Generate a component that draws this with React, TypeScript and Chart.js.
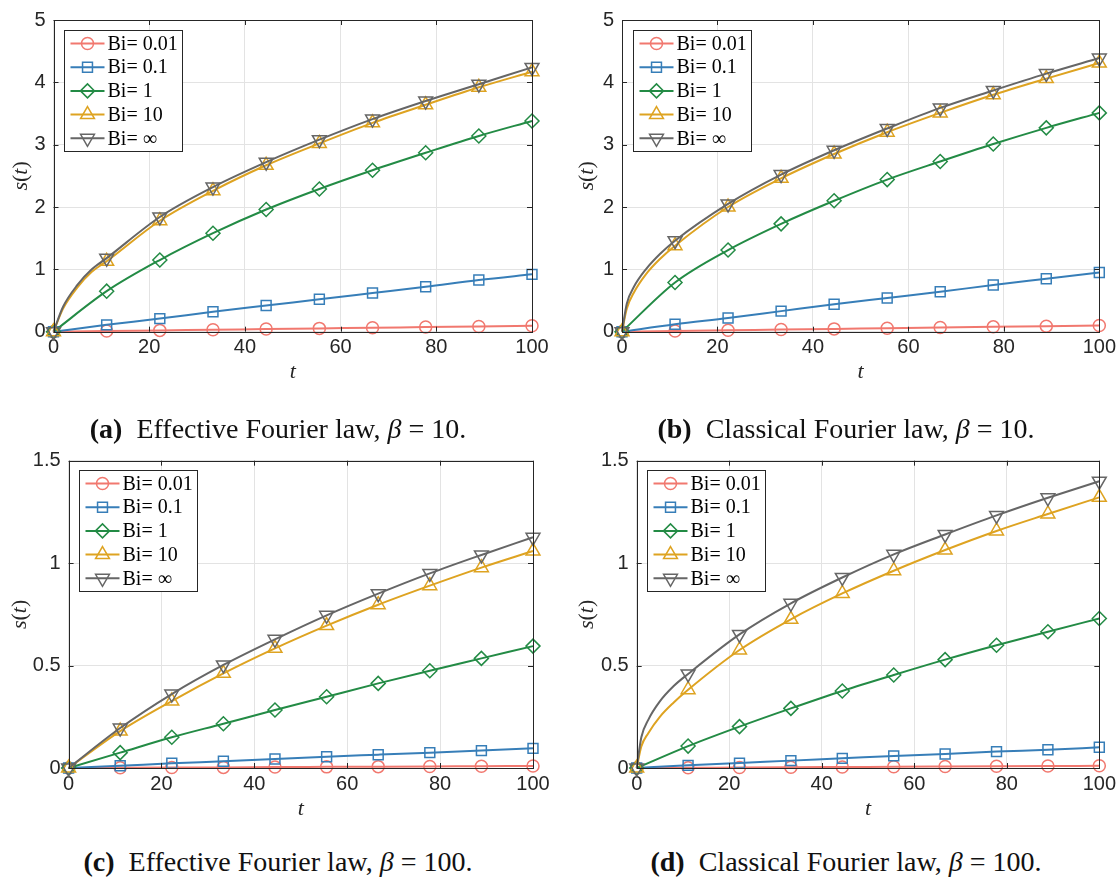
import React, { useEffect, useRef } from "react";
import { Chart, registerables } from "chart.js";
import { drawPoint } from "chart.js/helpers";

Chart.register(...registerables);

// ---- data ---------------------------------------------------------------
const T_MARKS = [0, 11.11, 22.22, 33.33, 44.44, 55.56, 66.67, 77.78, 88.89, 100];
const SERIES_LABELS = ["Bi= 0.01", "Bi= 0.1", "Bi= 1", "Bi= 10", "Bi= \u221E"];
const X_TICKS = [0, 20, 40, 60, 80, 100];
const Y_TICKS_BETA10 = [0, 1, 2, 3, 4, 5];
const Y_TICKS_BETA100 = [0, 0.5, 1, 1.5];

// (a) effective Fourier law, beta = 10
const A_BI001 = [0, 0.011, 0.021, 0.032, 0.042, 0.053, 0.063, 0.074, 0.084, 0.095];
const A_BI01 = [0, 0.11, 0.21, 0.32, 0.42, 0.52, 0.62, 0.72, 0.83, 0.92];
const A_BI1 = [0, 0.65, 1.15, 1.58, 1.96, 2.29, 2.59, 2.87, 3.14, 3.38];
const A_BI10 = [0, 1.13, 1.78, 2.26, 2.67, 3.02, 3.35, 3.64, 3.92, 4.17];
const A_BIINF = [0, 1.18, 1.84, 2.32, 2.72, 3.08, 3.41, 3.7, 3.97, 4.24];
const A_T_EARLY = [2, 5, 8];
const A_BI10_EARLY = [0.37, 0.71, 0.96];
const A_BIINF_EARLY = [0.4, 0.75, 1.0];

// (b) classical Fourier law, beta = 10
const B_BI001 = [0, 0.012, 0.023, 0.034, 0.045, 0.056, 0.067, 0.078, 0.089, 0.1];
const B_BI01 = [0, 0.12, 0.22, 0.33, 0.44, 0.54, 0.64, 0.75, 0.85, 0.95];
const B_BI1 = [0, 0.79, 1.31, 1.73, 2.1, 2.44, 2.73, 3.01, 3.27, 3.51];
const B_BI10 = [0, 1.38, 2.0, 2.46, 2.85, 3.2, 3.51, 3.8, 4.06, 4.31];
const B_BIINF = [0, 1.46, 2.05, 2.52, 2.91, 3.26, 3.59, 3.87, 4.14, 4.39];
const B_T_EARLY = [1, 2.5, 5, 8];
const B_BI10_EARLY = [0.37, 0.63, 0.92, 1.17];
const B_BIINF_EARLY = [0.45, 0.72, 1.0, 1.25];

// (c) effective Fourier law, beta = 100
const C_BI001 = [0, 0.001, 0.002, 0.003, 0.0045, 0.0055, 0.0066, 0.0077, 0.0088, 0.0099];
const C_BI01 = [0, 0.011, 0.023, 0.033, 0.044, 0.055, 0.065, 0.075, 0.085, 0.096];
const C_BI1 = [0, 0.075, 0.15, 0.216, 0.283, 0.348, 0.413, 0.475, 0.535, 0.595];
const C_BI10 = [0, 0.18, 0.327, 0.462, 0.584, 0.695, 0.797, 0.89, 0.978, 1.059];
const C_BIINF = [0, 0.195, 0.361, 0.503, 0.628, 0.745, 0.851, 0.95, 1.04, 1.126];

// (d) classical Fourier law, beta = 100
const D_BI001 = [0, 0.001, 0.0025, 0.0037, 0.0048, 0.006, 0.0071, 0.0083, 0.0095, 0.0106];
const D_BI01 = [0, 0.013, 0.024, 0.036, 0.047, 0.059, 0.068, 0.08, 0.089, 0.101];
const D_BI1 = [0, 0.107, 0.202, 0.291, 0.376, 0.454, 0.529, 0.599, 0.665, 0.73];
const D_BI10 = [0, 0.382, 0.576, 0.726, 0.852, 0.963, 1.064, 1.157, 1.24, 1.321];
const D_BIINF = [0, 0.459, 0.652, 0.804, 0.93, 1.043, 1.14, 1.233, 1.319, 1.4];
const D_T_EARLY = [1, 2.5, 5, 8];
const D_BI10_EARLY = [0.105, 0.17, 0.25, 0.32];
const D_BIINF_EARLY = [0.15, 0.235, 0.325, 0.4];

// ---- styling --------------------------------------------------------------
const AXIS_COLOR = "#262626";
const GRID_COLOR = "#e3e3e3";
const SERIES_STYLE = [
  { color: "#f1786f", pointStyle: "circle", rotation: 0, radius: 6 },
  { color: "#377eb8", pointStyle: "rect", rotation: 0, radius: 7 },
  { color: "#238b45", pointStyle: "rectRot", rotation: 0, radius: 7 },
  { color: "#dea321", pointStyle: "triangle", rotation: 0, radius: 8 },
  { color: "#666666", pointStyle: "triangle", rotation: 180, radius: 8 },
];

const PANEL_W = 560;
const PANEL_H = 400;
const TICK_FONT = { family: '"Liberation Sans", Arial, sans-serif', size: 20 };
const SERIF = '"Liberation Serif", "Times New Roman", serif';

type Pt = { x: number; y: number; m: boolean };

function buildLine(values: number[], earlyT: number[] = [], earlyV: number[] = []): Pt[] {
  const pts: Pt[] = T_MARKS.map((t, i) => ({ x: t, y: values[i], m: true }));
  earlyT.forEach((t, i) => pts.push({ x: t, y: earlyV[i], m: false }));
  return pts.sort((p, q) => p.x - q.x);
}

type Panel = {
  key: string;
  pageX: number;
  pageY: number;
  area: { l: number; r: number; t: number; b: number };
  yTitleX: number;
  yMax: number;
  yTicks: number[];
  lines: Pt[][];
  tag: string;
  law: string;
  beta: string;
};

const PANELS: Panel[] = [
  {
    key: "a", pageX: 0, pageY: 0,
    area: { l: 53.5, r: 532, t: 14.7, b: 331.7 }, yTitleX: 21.5,
    yMax: 5, yTicks: Y_TICKS_BETA10,
    lines: [
      buildLine(A_BI001), buildLine(A_BI01), buildLine(A_BI1),
      buildLine(A_BI10, A_T_EARLY, A_BI10_EARLY), buildLine(A_BIINF, A_T_EARLY, A_BIINF_EARLY),
    ],
    tag: "(a)", law: "Effective Fourier law,", beta: "10.",
  },
  {
    key: "b", pageX: 560, pageY: 0,
    area: { l: 62, r: 541, t: 14.7, b: 331.7 }, yTitleX: 27,
    yMax: 5, yTicks: Y_TICKS_BETA10,
    lines: [
      buildLine(B_BI001), buildLine(B_BI01), buildLine(B_BI1),
      buildLine(B_BI10, B_T_EARLY, B_BI10_EARLY), buildLine(B_BIINF, B_T_EARLY, B_BIINF_EARLY),
    ],
    tag: "(b)", law: "Classical Fourier law,", beta: "10.",
  },
  {
    key: "c", pageX: 0, pageY: 440,
    area: { l: 68.6, r: 533, t: 20.7, b: 328 }, yTitleX: 20,
    yMax: 1.5, yTicks: Y_TICKS_BETA100,
    lines: [buildLine(C_BI001), buildLine(C_BI01), buildLine(C_BI1), buildLine(C_BI10), buildLine(C_BIINF)],
    tag: "(c)", law: "Effective Fourier law,", beta: "100.",
  },
  {
    key: "d", pageX: 560, pageY: 440,
    area: { l: 76.7, r: 540.6, t: 20.7, b: 328 }, yTitleX: 27,
    yMax: 1.5, yTicks: Y_TICKS_BETA100,
    lines: [
      buildLine(D_BI001), buildLine(D_BI01), buildLine(D_BI1),
      buildLine(D_BI10, D_T_EARLY, D_BI10_EARLY), buildLine(D_BIINF, D_T_EARLY, D_BIINF_EARLY),
    ],
    tag: "(d)", law: "Classical Fourier law,", beta: "100.",
  },
];

// Box, inward tick marks, axis titles and the inset legend.
const decorations = {
  id: "decorations",
  afterDatasetsDraw(chart: any, _args: any, opts: any) {
    const { ctx, chartArea: a, scales } = chart;
    const TL = 5;
    ctx.save();
    ctx.strokeStyle = AXIS_COLOR;
    ctx.lineWidth = 1;
    ctx.beginPath();
    scales.x.ticks.forEach((t: any) => {
      const px = Math.round(scales.x.getPixelForValue(t.value)) + 0.5;
      ctx.moveTo(px, a.bottom); ctx.lineTo(px, a.bottom - TL);
      ctx.moveTo(px, a.top); ctx.lineTo(px, a.top + TL);
    });
    scales.y.ticks.forEach((t: any) => {
      const py = Math.round(scales.y.getPixelForValue(t.value)) + 0.5;
      ctx.moveTo(a.left, py); ctx.lineTo(a.left + TL, py);
      ctx.moveTo(a.right, py); ctx.lineTo(a.right - TL, py);
    });
    ctx.stroke();
    ctx.strokeRect(Math.round(a.left) + 0.5, Math.round(a.top) + 0.5,
      Math.round(a.right) - Math.round(a.left), Math.round(a.bottom) - Math.round(a.top));

    // axis titles
    ctx.fillStyle = AXIS_COLOR;
    ctx.textBaseline = "middle";
    ctx.textAlign = "center";
    ctx.font = `italic 22px ${SERIF}`;
    ctx.fillText("t", (a.left + a.right) / 2, a.bottom + 41);

    const parts: [string, boolean][] = [["s", true], ["(", false], ["t", true], [")", false]];
    const fontFor = (it: boolean) => `${it ? "italic " : ""}22px ${SERIF}`;
    let total = 0;
    parts.forEach(([s, it]) => { ctx.font = fontFor(it); total += ctx.measureText(s).width; });
    ctx.save();
    ctx.translate(opts.yTitleX, (a.top + a.bottom) / 2);
    ctx.rotate(-Math.PI / 2);
    ctx.textAlign = "left";
    let x = -total / 2;
    parts.forEach(([s, it]) => {
      ctx.font = fontFor(it);
      ctx.fillText(s, x, 0);
      x += ctx.measureText(s).width;
    });
    ctx.restore();

    // legend
    const x0 = Math.round(a.left + 10.5) + 0.5;
    const y0 = Math.round(a.top + 9.5) + 0.5;
    const w = 118, h = 121;
    ctx.fillStyle = "#ffffff";
    ctx.fillRect(x0, y0, w, h);
    ctx.strokeStyle = AXIS_COLOR;
    ctx.lineWidth = 1;
    ctx.strokeRect(x0, y0, w, h);
    ctx.font = `20px ${SERIF}`;
    ctx.textAlign = "left";
    ctx.textBaseline = "middle";
    SERIES_LABELS.forEach((label, i) => {
      const st = SERIES_STYLE[i];
      const yy = y0 + 13 + i * 23.7;
      ctx.strokeStyle = st.color;
      ctx.lineWidth = 2;
      ctx.beginPath();
      ctx.moveTo(x0 + 6, yy);
      ctx.lineTo(x0 + 40, yy);
      ctx.stroke();
      ctx.lineWidth = 1.5;
      ctx.fillStyle = "rgba(0,0,0,0)";
      drawPoint(ctx, { pointStyle: st.pointStyle, rotation: st.rotation, radius: st.radius, borderWidth: 1.5 } as any, x0 + 23, yy);
      ctx.fillStyle = "#000000";
      ctx.fillText(label, x0 + 43, yy + 1);
    });
    ctx.restore();
  },
};

function PanelChart({ panel }: { panel: Panel }) {
  const ref = useRef<HTMLCanvasElement | null>(null);
  useEffect(() => {
    if (!ref.current) return;
    const { area } = panel;
    const chart = new Chart(ref.current, {
      type: "line",
      data: {
        datasets: panel.lines.map((pts, i) => {
          const st = SERIES_STYLE[i];
          return {
            label: SERIES_LABELS[i],
            data: pts,
            order: 5 - i,
            borderColor: st.color,
            borderWidth: 2,
            cubicInterpolationMode: "monotone",
            pointStyle: st.pointStyle,
            rotation: st.rotation,
            pointRadius: (c: any) => (c.raw && c.raw.m ? st.radius : 0),
            pointBorderWidth: 1.5,
            pointBorderColor: st.color,
            pointBackgroundColor: "rgba(0,0,0,0)",
            clip: false,
          } as any;
        }),
      },
      options: {
        responsive: false,
        animation: false,
        devicePixelRatio: 1,
        events: [],
        layout: { padding: { left: 0, top: area.t, right: PANEL_W - area.r, bottom: 0 } },
        scales: {
          x: {
            type: "linear",
            min: 0,
            max: 100,
            afterBuildTicks: (s: any) => { s.ticks = X_TICKS.map((v) => ({ value: v })); },
            afterFit: (s: any) => { s.height = PANEL_H - area.b; },
            grid: { color: GRID_COLOR, lineWidth: 1, drawTicks: false },
            border: { display: false },
            ticks: {
              padding: 4, font: TICK_FONT, color: AXIS_COLOR, maxRotation: 0, autoSkip: false,
              callback: (v: any) => String(v),
            },
          },
          y: {
            type: "linear",
            min: 0,
            max: panel.yMax,
            afterBuildTicks: (s: any) => { s.ticks = panel.yTicks.map((v) => ({ value: v })); },
            afterFit: (s: any) => { s.width = area.l; },
            grid: { color: GRID_COLOR, lineWidth: 1, drawTicks: false },
            border: { display: false },
            ticks: {
              padding: 8, font: TICK_FONT, color: AXIS_COLOR, autoSkip: false,
              callback: (v: any) => String(v),
            },
          },
        },
        plugins: {
          legend: { display: false },
          tooltip: { enabled: false },
          decorations: { yTitleX: panel.yTitleX },
        } as any,
      },
      plugins: [decorations],
    });
    return () => chart.destroy();
  }, [panel]);

  return (
    <canvas
      ref={ref}
      width={PANEL_W}
      height={PANEL_H}
      style={{ position: "absolute", left: panel.pageX, top: panel.pageY, width: PANEL_W, height: PANEL_H }}
    />
  );
}

function Caption({ panel }: { panel: Panel }) {
  const cx = panel.pageX + (panel.key === "a" || panel.key === "c" ? 278 : 286);
  const cy = panel.pageY + (panel.pageY === 0 ? 429 : 422);
  return (
    <div
      style={{
        position: "absolute",
        left: cx - 260,
        width: 520,
        top: cy - 17,
        height: 34,
        lineHeight: "34px",
        textAlign: "center",
        fontFamily: SERIF,
        fontSize: 28,
        color: "#111",
        whiteSpace: "nowrap",
      }}
    >
      <b style={{ marginRight: 7 }}>{panel.tag}</b> {panel.law} <i>&beta;</i> = {panel.beta}
    </div>
  );
}

export default function App() {
  return (
    <div style={{ position: "absolute", left: 0, top: 0, width: 1120, height: 879, background: "#fff", overflow: "hidden" }}>
      {PANELS.map((p) => (
        <PanelChart key={p.key} panel={p} />
      ))}
      {PANELS.map((p) => (
        <Caption key={"cap" + p.key} panel={p} />
      ))}
    </div>
  );
}
